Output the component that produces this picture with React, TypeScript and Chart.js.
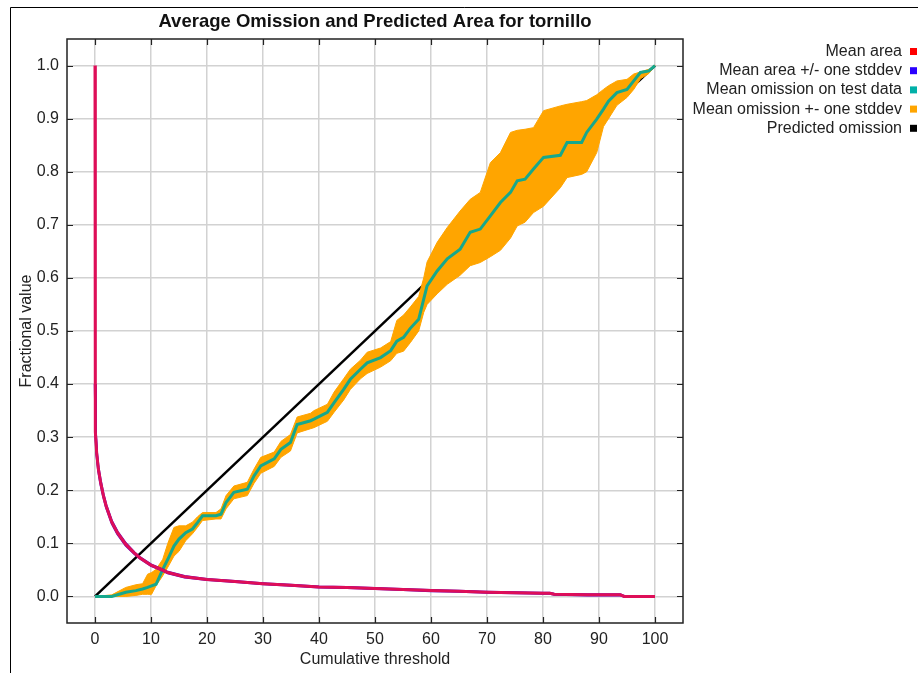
import React, { useEffect, useRef } from "react";
import { Chart, registerables } from "chart.js";

Chart.register(...registerables);

const FONT = "'Liberation Sans', Arial, Helvetica, sans-serif";

const titleText = "Average Omission and Predicted Area for tornillo";
const xAxisTitle = "Cumulative threshold";
const yAxisTitle = "Fractional value";

const xTickValues = [0, 10, 20, 30, 40, 50, 60, 70, 80, 90, 100];
const yTickValues = [0, 0.1, 0.2, 0.3, 0.4, 0.5, 0.6, 0.7, 0.8, 0.9, 1.0];

const legendLabels = [
  "Mean area",
  "Mean area +/- one stddev",
  "Mean omission on test data",
  "Mean omission +- one stddev",
  "Predicted omission",
];
const legendColors = ["#ff0000", "#2a00ff", "#00b0a8", "#ffa500", "#000000"];

// Mean area (and +/- stddev)
const areaX = [0, 0.02, 0.1, 0.3, 0.6, 1, 1.5, 2, 3, 4, 5.5, 7, 8, 10, 12, 13, 16, 20, 25, 30, 35, 40, 45, 50, 55, 60, 65, 70, 75, 80, 81.2, 82, 88, 93.8, 94.5, 100];
const areaMean = [1.0, 0.40, 0.31, 0.27, 0.24, 0.215, 0.19, 0.17, 0.14, 0.12, 0.098, 0.082, 0.073, 0.059, 0.05, 0.045, 0.037, 0.032, 0.028, 0.024, 0.021, 0.018, 0.017, 0.015, 0.013, 0.011, 0.01, 0.008, 0.007, 0.006, 0.006, 0.004, 0.003, 0.003, 0.0, 0.0];
const areaUpper = [null, 0.40, 0.313, 0.273, 0.243, 0.218, 0.192, 0.172, 0.142, 0.122, 0.1, 0.083, 0.074, 0.06, 0.051, 0.046, 0.038, 0.0325, 0.0285, 0.0245, 0.0215, 0.0185, 0.0175, 0.0155, 0.0135, 0.0115, 0.0105, 0.0085, 0.0075, 0.0065, 0.0065, 0.0045, 0.0035, 0.0035, 0.0005, 0.0005];
const areaLower = [null, 0.40, 0.307, 0.267, 0.237, 0.212, 0.188, 0.168, 0.138, 0.118, 0.096, 0.081, 0.072, 0.058, 0.049, 0.044, 0.036, 0.0315, 0.0275, 0.0235, 0.0205, 0.0175, 0.0165, 0.0145, 0.0125, 0.0105, 0.0095, 0.0075, 0.0065, 0.0055, 0.0055, 0.0035, 0.0025, 0.0025, 0.0, 0.0];

// Mean omission on test data (and +- stddev band)
const omX = [0, 3, 5.5, 7.3, 8.5, 9.4, 10.1, 10.9, 12.1, 13, 14.1, 15, 16.2, 17.4, 18.3, 19.2, 21.6, 22.5, 23.4, 24.8, 27.2, 28.4, 29.6, 32, 33.2, 34.9, 36.1, 38.5, 39.1, 41.5, 42.7, 44.4, 45.6, 47.4, 48.6, 51, 52.8, 53.9, 55.1, 56.3, 57.8, 58.7, 59.3, 61.1, 62.9, 65.2, 67, 68.8, 70.6, 72.4, 74.2, 75.4, 76.8, 78.3, 80.1, 83.1, 84.3, 86.9, 87.8, 89.6, 90.8, 91.7, 93.2, 95, 96.2, 97.4, 98.9, 100];
const omMean = [0, 0, 0.008, 0.011, 0.014, 0.017, 0.02, 0.023, 0.051, 0.07, 0.095, 0.108, 0.12, 0.127, 0.139, 0.152, 0.152, 0.155, 0.177, 0.196, 0.202, 0.227, 0.246, 0.259, 0.277, 0.29, 0.324, 0.331, 0.334, 0.347, 0.365, 0.39, 0.409, 0.428, 0.44, 0.45, 0.463, 0.481, 0.488, 0.505, 0.522, 0.56, 0.585, 0.613, 0.636, 0.654, 0.686, 0.692, 0.717, 0.742, 0.761, 0.783, 0.786, 0.805, 0.827, 0.831, 0.855, 0.855, 0.874, 0.899, 0.918, 0.933, 0.949, 0.955, 0.971, 0.987, 0.99, 1.0];
const omUpper = [0, 0.003, 0.017, 0.022, 0.024, 0.042, 0.045, 0.051, 0.07, 0.1, 0.13, 0.133, 0.133, 0.14, 0.15, 0.158, 0.158, 0.165, 0.19, 0.208, 0.215, 0.24, 0.262, 0.272, 0.292, 0.305, 0.338, 0.345, 0.35, 0.362, 0.385, 0.41, 0.428, 0.445, 0.46, 0.468, 0.48, 0.52, 0.53, 0.545, 0.565, 0.6, 0.63, 0.667, 0.695, 0.726, 0.748, 0.761, 0.817, 0.836, 0.874, 0.878, 0.88, 0.883, 0.915, 0.924, 0.927, 0.932, 0.934, 0.945, 0.955, 0.962, 0.971, 0.974, 0.984, 0.988, 0.993, 1.0];
const omLower = [0, 0, 0, 0.002, 0.004, 0.004, 0.004, 0.02, 0.039, 0.055, 0.076, 0.085, 0.105, 0.118, 0.13, 0.143, 0.146, 0.146, 0.165, 0.184, 0.19, 0.213, 0.232, 0.245, 0.262, 0.274, 0.308, 0.316, 0.318, 0.33, 0.347, 0.37, 0.39, 0.41, 0.42, 0.432, 0.444, 0.458, 0.462, 0.478, 0.5, 0.535, 0.55, 0.57, 0.588, 0.605, 0.623, 0.629, 0.64, 0.652, 0.675, 0.698, 0.705, 0.723, 0.735, 0.77, 0.789, 0.795, 0.8, 0.836, 0.885, 0.9, 0.925, 0.94, 0.955, 0.975, 0.985, 1.0];

// Predicted omission
const predX = [0, 100];
const predY = [0, 1];

const pts = (xs: number[], ys: (number | null)[]) => xs.map((x, i) => ({ x, y: ys[i] }));

const decorPlugin = {
  id: "decor",
  beforeDraw(chart: any) {
    const ctx = chart.ctx;
    ctx.save();
    ctx.fillStyle = "#ffffff";
    ctx.fillRect(0, 0, chart.width, chart.height);
    ctx.strokeStyle = "#000";
    ctx.lineWidth = 1;
    ctx.beginPath();
    ctx.moveTo(10.5, chart.height);
    ctx.lineTo(10.5, 7.5);
    ctx.lineTo(chart.width, 7.5);
    ctx.stroke();
    ctx.restore();
  },
  afterDraw(chart: any) {
    const ctx = chart.ctx;
    const a = chart.chartArea;
    const xs = chart.scales.x;
    const ys = chart.scales.y;
    ctx.save();
    ctx.strokeStyle = "#222";
    ctx.lineWidth = 1.5;
    ctx.strokeRect(a.left, a.top, a.right - a.left, a.bottom - a.top);
    ctx.lineWidth = 1.2;
    ctx.beginPath();
    for (const t of xs.ticks) {
      const px = Math.round(xs.getPixelForValue(t.value)) + 0.5;
      ctx.moveTo(px, a.bottom);
      ctx.lineTo(px, a.bottom - 6);
      ctx.moveTo(px, a.top);
      ctx.lineTo(px, a.top + 6);
    }
    for (const t of ys.ticks) {
      const py = Math.round(ys.getPixelForValue(t.value)) + 0.5;
      ctx.moveTo(a.left, py);
      ctx.lineTo(a.left + 6, py);
      ctx.moveTo(a.right, py);
      ctx.lineTo(a.right - 6, py);
    }
    ctx.stroke();
    ctx.fillStyle = "#111";
    ctx.font = `bold 18.5px ${FONT}`;
    ctx.textAlign = "center";
    ctx.textBaseline = "middle";
    ctx.fillText(titleText, (a.left + a.right) / 2, 22);
    ctx.font = `16px ${FONT}`;
    ctx.fillStyle = "#222";
    ctx.fillText(xAxisTitle, (a.left + a.right) / 2, 660);
    ctx.save();
    ctx.translate(27, (a.top + a.bottom) / 2);
    ctx.rotate(-Math.PI / 2);
    ctx.fillText(yAxisTitle, 0, 0);
    ctx.restore();
    ctx.font = `16px ${FONT}`;
    ctx.textAlign = "right";
    legendLabels.forEach((lbl, i) => {
      const cy = 51.5 + i * 19.2;
      ctx.fillStyle = "#222";
      ctx.fillText(lbl, 902, cy);
      ctx.fillStyle = legendColors[i];
      ctx.fillRect(910, cy - 3.5, 7, 7);
    });
    ctx.restore();
  },
};

export default function App() {
  const ref = useRef<HTMLCanvasElement>(null);
  useEffect(() => {
    document.body.style.margin = "0";
    const canvas = ref.current!;
    const line = (label: string, data: any, color: string, width: number, extra: any = {}) => ({
      label,
      data,
      borderColor: color,
      borderWidth: width,
      pointRadius: 0,
      tension: 0,
      fill: false,
      spanGaps: false,
      ...extra,
    });
    const chart = new Chart(canvas, {
      type: "line",
      data: {
        datasets: [
          line(legendLabels[0], pts(areaX, areaMean), "rgb(222,14,88)", 3),
          line(legendLabels[1], pts(areaX, areaUpper), "rgb(90,0,200)", 2.5),
          line(legendLabels[1] + " (lower)", pts(areaX, areaLower), "rgb(90,0,200)", 2.5),
          line(legendLabels[2], pts(omX, omMean), "rgb(22,168,140)", 3),
          line(legendLabels[3], pts(omX, omUpper), "#ffa500", 1, { backgroundColor: "#ffa500", fill: "+1" }),
          line(legendLabels[3] + " (lower)", pts(omX, omLower), "#ffa500", 1),
          line(legendLabels[4], pts(predX, predY), "#000000", 2.5),
        ],
      },
      options: {
        responsive: false,
        animation: false,
        devicePixelRatio: 1,
        layout: { padding: { top: 39, right: 235, left: 0, bottom: 0 } },
        plugins: {
          legend: { display: false },
          title: { display: false },
          tooltip: { enabled: false },
        },
        scales: {
          x: {
            type: "linear",
            min: -5,
            max: 105,
            afterBuildTicks: (s: any) => {
              s.ticks = xTickValues.map((v) => ({ value: v }));
            },
            afterFit: (s: any) => {
              s.height = 50;
            },
            grid: { color: "#d2d2d2", lineWidth: 1.5, drawTicks: false },
            border: { display: false },
            ticks: {
              padding: 7,
              color: "#222",
              font: { family: FONT, size: 16 },
              callback: (v: any) => String(v),
            },
          },
          y: {
            type: "linear",
            min: -0.05,
            max: 1.05,
            afterBuildTicks: (s: any) => {
              s.ticks = yTickValues.map((v) => ({ value: v }));
            },
            afterFit: (s: any) => {
              s.width = 67;
            },
            grid: { color: "#d2d2d2", lineWidth: 1.5, drawTicks: false },
            border: { display: false },
            ticks: {
              padding: 8,
              color: "#222",
              font: { family: FONT, size: 16 },
              callback: (v: any) => Number(v).toFixed(1),
            },
          },
        },
      },
      plugins: [decorPlugin],
    });
    return () => chart.destroy();
  }, []);
  return (
    <div style={{ position: "absolute", left: 0, top: 0, width: 918, height: 673 }}>
      <canvas ref={ref} width={918} height={673} style={{ display: "block", width: 918, height: 673 }} />
    </div>
  );
}
